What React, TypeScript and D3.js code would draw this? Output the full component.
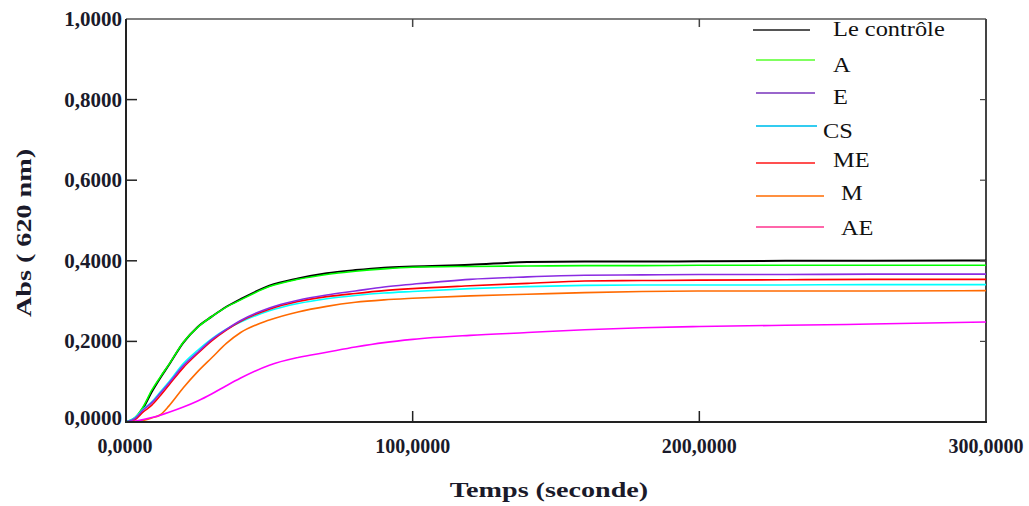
import React from "react";
import * as d3 from "d3";

const times = [0, 3, 6, 9, 12, 15, 20, 25, 30, 35, 40, 50, 60, 70, 80, 90, 100, 120, 140, 160, 180, 200, 230, 260, 300];

const seriesNames = ["Le contrôle", "A", "E", "CS", "ME", "M", "AE"];
const controle = [0, 0.008, 0.035, 0.075, 0.11, 0.142, 0.197, 0.236, 0.262, 0.286, 0.305, 0.338, 0.356, 0.369, 0.377, 0.383, 0.386, 0.39, 0.397, 0.398, 0.398, 0.399, 0.4, 0.4, 0.401];
const serieA = [0, 0.01, 0.038, 0.079, 0.112, 0.143, 0.198, 0.235, 0.262, 0.285, 0.303, 0.336, 0.354, 0.366, 0.374, 0.38, 0.384, 0.386, 0.387, 0.388, 0.388, 0.389, 0.389, 0.389, 0.389];
const serieE = [0, 0.008, 0.03, 0.048, 0.072, 0.097, 0.14, 0.173, 0.205, 0.23, 0.252, 0.283, 0.302, 0.315, 0.325, 0.335, 0.342, 0.354, 0.36, 0.364, 0.365, 0.366, 0.366, 0.367, 0.367];
const serieCS = [0, 0.01, 0.032, 0.05, 0.075, 0.1, 0.145, 0.178, 0.207, 0.23, 0.248, 0.276, 0.294, 0.306, 0.314, 0.32, 0.324, 0.331, 0.336, 0.339, 0.34, 0.34, 0.34, 0.341, 0.341];
const serieME = [0, 0.005, 0.025, 0.042, 0.066, 0.092, 0.135, 0.17, 0.202, 0.228, 0.25, 0.28, 0.299, 0.311, 0.319, 0.326, 0.331, 0.338, 0.344, 0.35, 0.351, 0.352, 0.353, 0.354, 0.354];
const serieM = [0, 0.001, 0.004, 0.01, 0.018, 0.04, 0.085, 0.125, 0.16, 0.195, 0.222, 0.253, 0.273, 0.287, 0.297, 0.303, 0.307, 0.313, 0.317, 0.321, 0.324, 0.325, 0.325, 0.325, 0.326];
const serieAE = [0, 0.002, 0.006, 0.011, 0.017, 0.024, 0.037, 0.052, 0.07, 0.09, 0.109, 0.141, 0.16, 0.173, 0.186, 0.197, 0.205, 0.215, 0.222, 0.229, 0.234, 0.237, 0.24, 0.243, 0.248];

const seriesValues = [controle, serieA, serieE, serieCS, serieME, serieM, serieAE];
const lineColors = ["#000000", "#00ff00", "#8a2be2", "#00ffff", "#ff0000", "#ff6a00", "#ff00ff"];
const legendColors = ["#555555", "#80ff60", "#9966cc", "#33ccf0", "#ff5050", "#ff9040", "#ff66aa"];

const xTicks = [0, 100, 200, 300];
const xTickLabels = ["0,0000", "100,0000", "200,0000", "300,0000"];
const yTicks = [0, 0.2, 0.4, 0.6, 0.8, 1.0];
const yTickLabels = ["0,0000", "0,2000", "0,4000", "0,6000", "0,8000", "1,0000"];

const drawOrder = [0, 1, 3, 4, 2, 5, 6];

export default function App() {
  const x = d3.scaleLinear().domain([0, 300]).range([126, 986]);
  const y = d3.scaleLinear().domain([0, 1]).range([422, 19]);
  const line = d3
    .line<number>()
    .x((_, i) => x(times[i]))
    .y((v) => y(v))
    .curve(d3.curveMonotoneX);

  const serif = "'Liberation Serif', 'Times New Roman', serif";

  const legendLineY = [30, 60, 93, 126, 163, 196, 227];
  const legendLineX0 = [753, 756, 756, 756, 756, 756, 756];
  const legendLineX1 = [810, 815, 815, 817, 815, 824, 824];
  const legendTextX = [833, 833, 833, 823, 833, 841, 841];
  const legendTextY = [36, 71.5, 104, 138, 167, 200, 235];

  return (
    <svg
      width={1029}
      height={506}
      style={{ position: "absolute", left: 0, top: 0, background: "#fff" }}
      fontFamily={serif}
    >
      <rect x={0} y={0} width={1029} height={506} fill="#fff" />
      {/* frame */}
      <line x1={126} y1={19} x2={986} y2={19} stroke="#555" strokeWidth={1.5} />
      <line x1={986} y1={19} x2={986} y2={422} stroke="#444" strokeWidth={2} />

      {/* series */}
      {drawOrder.map((k) => (
        <path
          key={k}
          d={line(seriesValues[k]) || ""}
          fill="none"
          stroke={lineColors[k]}
          strokeWidth={k === 0 ? 2 : 1.6}
        />
      ))}

      {/* axes */}
      <line x1={126} y1={19} x2={126} y2={423} stroke="#222" strokeWidth={2} />
      <line x1={125} y1={422} x2={987} y2={422} stroke="#222" strokeWidth={2} />

      {yTicks.map((t, i) => (
        <g key={"y" + i}>
          {i > 0 && i < yTicks.length - 1 && (
            <>
              <line x1={125} y1={y(t)} x2={137} y2={y(t)} stroke="#222" strokeWidth={1.5} />
              <line x1={980} y1={y(t)} x2={986} y2={y(t)} stroke="#444" strokeWidth={1.2} />
            </>
          )}
          <text
            x={122}
            y={y(t) + (i === 0 ? 3 : 7)}
            textAnchor="end"
            fontSize={21}
            fontWeight="bold"
            fill="#1a1a2a"
          >
            {yTickLabels[i]}
          </text>
        </g>
      ))}

      {xTicks.map((t, i) => (
        <g key={"x" + i}>
          {i > 0 && i < xTicks.length - 1 && (
            <>
              <line x1={x(t)} y1={411} x2={x(t)} y2={422} stroke="#222" strokeWidth={1.5} />
              <line x1={x(t)} y1={19} x2={x(t)} y2={27} stroke="#444" strokeWidth={1.5} />
            </>
          )}
          <text
            x={x(t) - (i === 0 ? 1 : 0)}
            y={453}
            textAnchor="middle"
            fontSize={20}
            fontWeight="bold"
            fill="#1a1a2a"
          >
            {xTickLabels[i]}
          </text>
        </g>
      ))}

      {/* axis titles */}
      <text
        transform="translate(31,233) rotate(-90) scale(1.28,1)"
        textAnchor="middle"
        fontSize={22}
        fontWeight="bold"
        fill="#1a1a2a"
      >
        Abs ( 620 nm)
      </text>
      <text
        transform="translate(549,497) scale(1.28,1)"
        textAnchor="middle"
        fontSize={22}
        fontWeight="bold"
        fill="#1a1a2a"
      >
        Temps (seconde)
      </text>

      {/* legend */}
      {seriesNames.map((name, i) => (
        <g key={"lg" + i}>
          <line
            x1={legendLineX0[i]}
            y1={legendLineY[i]}
            x2={legendLineX1[i]}
            y2={legendLineY[i]}
            stroke={legendColors[i]}
            strokeWidth={1.8}
          />
          <text
            transform={`translate(${legendTextX[i]},${legendTextY[i]}) scale(1.22,1)`}
            fontSize={20}
            fill="#111"
          >
            {name}
          </text>
        </g>
      ))}
    </svg>
  );
}
